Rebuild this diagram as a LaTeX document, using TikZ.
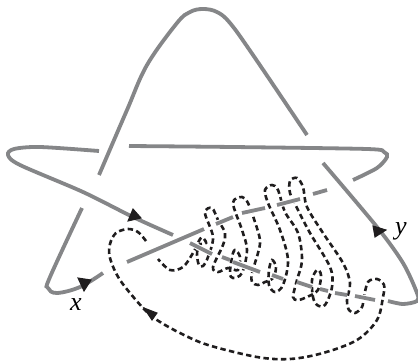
\documentclass[tikz,border=0pt]{standalone}
\usepackage{fontspec}
\setmainfont{Liberation Serif}
\definecolor{knotgrey}{HTML}{858688}
\definecolor{inkblack}{HTML}{1F1D1E}
\tikzset{
  knot/.style={draw=knotgrey,line width=3.8pt,preaction={draw=white,line width=6pt}},
  tangle/.style={draw=inkblack,line width=2.6pt,dash pattern=on 5.4pt off 3.4pt},
  tip/.style={fill=inkblack,draw=inkblack,line width=1pt,line join=miter},
  varlabel/.style={font=\fontsize{26}{26}\selectfont\itshape,inner sep=0pt}
}
\begin{document}
\begin{tikzpicture}[x=1pt,y=-1pt]
\useasboundingbox (0,0) rectangle (418,362);
% dashed tangle
\draw[tangle] plot[smooth,tension=0.55] coordinates {(146,241)(138,232)(128,229)(116,233)(110,244)(110,258)(120,280)(143,308)(157,320)(180,333)(208,345)(257,357)(290,359)(323,353)(357,340)(377,320)(383,297)(384,285)(377,279)(368,282)(364,297)(362,307)(355,313)(349,310)(347,300)(350,283)(343,263)(323,233)(307,207)(303,187)(297,178)(290,181)(290,193)(297,208)(310,233)(330,267)(332,287)(325,305)(317,305)(313,297)(312,280)(317,270)(321,275)(318,290)(307,297)(298,300)(293,297)(297,280)(302,260)(298,233)(285,212)(278,190)(272,185)(265,190)(268,203)(280,230)(288,260)(283,285)(275,292)(269,285)(269,270)(272,260)(276,267)(273,278)(265,282)(258,285)(252,282)(252,273)(258,253)(260,240)(255,222)(248,203)(242,197)(233,203)(242,230)(247,250)(242,273)(233,278)(230,273)(232,257)(235,250)(240,257)(238,270)(228,268)(218,272)(213,267)(223,245)(225,233)(218,220)(212,208)(205,213)(213,237)(208,257)(203,266)(199,265)(197,255)(199,245)(206,243)(203,238)(200,239)(193,253)(183,267)(170,270)(158,259)};
% grey knot
\draw[knot] plot[smooth,tension=0.6] coordinates {(99,175)(127,110)(147,65)(177,23)(190,12)(203,9)(217,12)(230,23)(253,55)(307,135)};
\draw[knot] plot[smooth,tension=0.5] coordinates {(129,146)(233,147)(367,149)(384,152)(387,157)(377,168)(353,180)};
\draw[knot] plot[smooth,tension=0.5] coordinates {(99,151)(40,147)(14,149)(8,155)(20,165)(83,192)(133,217)(173,235)};
\draw[knot] plot[smooth,tension=0.6] coordinates {(82,208)(50,277)(48,288)(57,293)(80,287)(103,273)};
\draw[knot] (127,262) -- (204,229);
\draw[knot] (216,224) -- (233,217);
\draw[knot] (242,213) -- (265,208);
\draw[knot] (277,205) -- (300,199);
\draw[knot] (313,194) -- (327,190);
\draw[knot] plot[smooth,tension=0.5] coordinates {(323,163)(377,227)(403,263)(417,293)(417,301)(403,304)(388,301)};
\draw[knot] (190,243) -- (212,254);
\draw[knot] (222,257) -- (230,260);
\draw[knot] (233,262) -- (260,272);
\draw[knot] (272,275) -- (283,279);
\draw[knot] (297,282) -- (312,287);
\draw[knot] (320,289) -- (328,291);
\draw[knot] (335,293) -- (347,295);
\draw[knot] (355,296) -- (375,300);
% arrowheads
\filldraw[tip] (133,209) -- (141,218) -- (128,221) -- cycle;
\filldraw[tip] (78,278) -- (91,280) -- (84,291) -- cycle;
\filldraw[tip] (373,226) -- (386,230) -- (375,237) -- cycle;
\filldraw[tip] (144,308) -- (157,313) -- (152,320) -- cycle;
% labels
\node[varlabel] (xlabel) at (76,305) {x};
\node[varlabel] (ylabel) at (401,231) {y};
\end{tikzpicture}
\end{document}
